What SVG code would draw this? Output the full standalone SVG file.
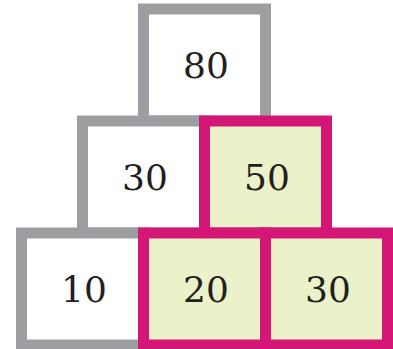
<svg xmlns="http://www.w3.org/2000/svg" width="393" height="349" viewBox="0 0 393 349">
<style>
.g{fill:#ffffff;stroke:#9d9ea2;stroke-width:11}
.p{fill:#ebf1c9;stroke:#d41677;stroke-width:11}
text{font-family:"DejaVu Serif","Liberation Serif",serif;font-size:36px;fill:#231f20;text-anchor:middle}
</style>
<rect width="393" height="349" fill="#ffffff"/>
<g id="n80"><rect class="g" x="143.5" y="9" width="122" height="112"/><text x="206" y="78">80</text></g>
<g id="n30a"><rect class="g" x="82.5" y="121" width="122" height="112"/><text x="145" y="190">30</text></g>
<g id="n10"><rect class="g" x="21.5" y="233" width="122" height="112"/><text x="84" y="302">10</text></g>
<g id="n50"><rect class="p" x="204.5" y="121" width="122" height="112"/><text x="267" y="190">50</text></g>
<g id="n20"><rect class="p" x="143.5" y="233" width="122" height="112"/><text x="206" y="302">20</text></g>
<g id="n30b"><rect class="p" x="265.5" y="233" width="122" height="112"/><text x="328" y="302">30</text></g>
<g id="connectors"></g>
</svg>
